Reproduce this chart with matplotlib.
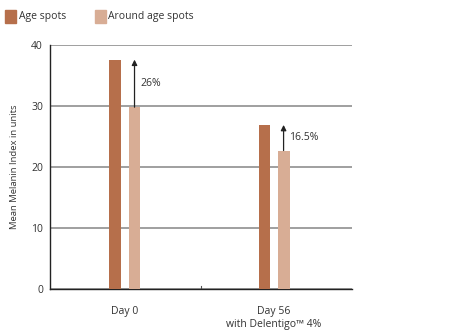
import matplotlib.pyplot as plt

categories = ["Day 0", "Day 56\nwith Delentigo\u2122 4%"]
age_spots = [37.6, 26.9]
around_spots = [29.8, 22.7]
change_labels = ["26%", "16.5%"]
series_names = ["Age spots", "Around age spots"]
y_ticks = [0, 10, 20, 30, 40]

c_age = "#B66F4B"
c_around = "#D8AD95"
txt = "#333333"

plt.rcParams['font.family'] = ['Open Sans', 'DejaVu Sans']

fig = plt.figure(figsize=(4.5, 3.36), dpi=100)
ax = fig.add_axes([50/450, 1-289/336, 302/450, 244/336])

x = list(range(len(categories)))
w = 0.08
off = 0.064
ax.bar([i - off for i in x], age_spots, width=w, color=c_age, zorder=3)
ax.bar([i + off for i in x], around_spots, width=w, color=c_around, zorder=3)

for i in x:
    ax.annotate("", xy=(i + off, age_spots[i]), xytext=(i + off, around_spots[i]),
                arrowprops=dict(arrowstyle="-|>", color="#222222", lw=0.9,
                                mutation_scale=8, shrinkA=0, shrinkB=0), zorder=4)
    ax.text(i + off + 0.037, (age_spots[i] + around_spots[i]) / 2, change_labels[i],
            fontsize=7.5, color=txt, va="center", ha="left")

ax.set_xlim(-0.503, 1.523)
ax.set_ylim(0, 40)
ax.set_yticks(y_ticks)
ax.set_yticklabels([str(t) for t in y_ticks], fontsize=7.5, color=txt)
ax.yaxis.grid(True, color="#858585", lw=1.1, zorder=1)
ax.tick_params(axis='y', length=0, pad=5)

ax.set_xticks(x)
ax.set_xticklabels(categories, fontsize=7.5, color=txt, linespacing=1.25)
ax.tick_params(axis='x', length=0, pad=12)
ax.axvline(0.513, ymin=0, ymax=0.013, color="#555555", lw=0.8)

for s in ["top", "right"]:
    ax.spines[s].set_visible(False)
for s in ["left", "bottom"]:
    ax.spines[s].set_color("#222222")
    ax.spines[s].set_linewidth(1.0)

ax.set_ylabel("Mean Melanin Index in units", fontsize=6.8, color=txt, labelpad=9)

# legend swatches
fig.patches.append(plt.Rectangle((5/450, 1-23/336), 11/450, 13/336, transform=fig.transFigure,
                                 color=c_age, figure=fig))
fig.text(19/450, 1-17/336, series_names[0], fontsize=7.5, color=txt, va="center")
fig.patches.append(plt.Rectangle((95/450, 1-23/336), 11/450, 13/336, transform=fig.transFigure,
                                 color=c_around, figure=fig))
fig.text(108/450, 1-17/336, series_names[1], fontsize=7.5, color=txt, va="center")

fig.savefig("out.png", dpi=100)
